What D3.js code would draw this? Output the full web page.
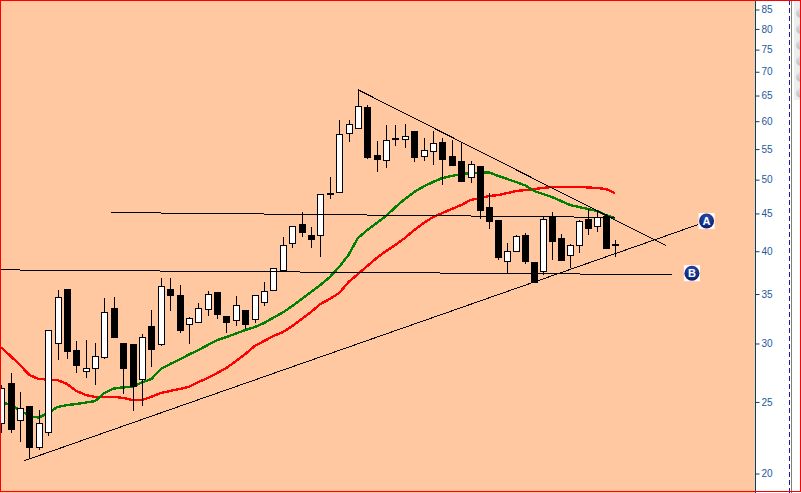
<!DOCTYPE html>
<html>
<head>
<meta charset="utf-8">
<script src="https://cdn.jsdelivr.net/npm/d3@7"></script>
<style>
    html, body { margin: 0; padding: 0; background: #fff; overflow: hidden; }
    svg { display: block; }
</style>
</head>
<body>
<div id="chart"></div>
<script>
// Candles
const opens = [23.41,26.44,23.56,24.61,21.72,22.76,30.04,35.55,29.39,27.53,27.71,28.76,33.50,30.04,29.95,26.85,31.67,29.95,35.55,34.89,31.87,32.07,33.40,35.22,32.67,32.27,33.20,32.37,34.14,35.44,37.72,41.03,43.54,42.06,41.95,47.80,48.11,57.82,58.73,62.70,53.99,53.15,56.80,56.75,58.18,53.82,54.67,56.22,53.82,52.98,50.26,52.17,45.91,44.08,38.79,40.02,41.95,38.67,37.60,44.49,41.68,39.53,40.78,44.21,43.27,44.63,40.80];
const highs = [26.36,27.36,25.79,24.69,24.38,31.28,35.44,35.55,30.23,30.32,30.04,34.57,34.67,30.04,29.95,30.90,33.30,36.79,36.79,36.00,32.57,34.03,35.33,35.22,32.67,34.79,33.20,34.89,36.33,37.95,41.82,43.27,45.20,43.13,47.80,50.41,60.21,60.21,66.33,63.10,56.40,59.28,59.28,59.46,58.18,56.92,58.18,56.92,56.57,56.04,52.98,52.17,47.95,44.08,41.03,42.06,42.33,38.67,44.49,45.20,42.19,40.90,44.08,45.63,45.34,44.91,41.42];
const lows = [22.69,22.69,22.06,20.92,21.52,22.48,28.49,28.58,27.36,26.93,26.36,28.58,30.51,25.63,24.30,24.69,27.88,29.76,33.20,30.98,29.95,31.97,32.67,32.37,30.98,31.67,31.38,31.97,33.71,35.44,37.60,40.40,41.82,40.40,39.28,47.07,48.11,56.22,58.73,53.32,51.20,51.84,55.53,55.18,52.82,52.98,52.33,49.15,52.33,49.78,49.48,44.21,42.87,38.91,37.37,39.90,38.43,36.33,37.13,38.91,38.91,37.95,39.78,42.06,42.46,40.40,39.28];
const closes = [26.11,22.97,24.46,21.66,23.41,31.28,34.67,29.30,28.05,27.71,28.85,33.09,30.60,27.71,26.20,30.60,29.48,35.88,34.79,31.28,32.47,33.50,35.00,32.88,32.07,33.82,31.87,34.89,35.33,37.95,40.78,43.27,42.46,41.55,47.80,47.95,57.63,59.46,62.90,53.65,53.32,56.57,56.92,57.28,53.65,54.84,56.04,53.32,52.33,49.78,52.49,45.48,43.94,39.28,40.02,41.82,38.79,36.33,44.21,41.29,38.91,40.78,43.94,43.00,44.49,40.40,40.90];

// Moving averages
const maFast = [25.00,24.76,24.38,23.92,23.81,24.15,24.61,24.76,24.84,24.95,25.07,25.71,26.07,26.16,26.20,26.57,26.85,27.71,28.14,28.53,28.98,29.39,29.85,30.32,30.60,30.94,31.28,31.57,31.97,32.52,33.04,33.71,34.46,35.22,36.00,36.90,38.08,39.53,41.68,42.73,43.67,44.63,45.91,47.07,48.11,48.95,49.63,50.26,50.58,50.89,51.05,51.12,51.12,50.58,50.10,49.63,49.10,48.26,47.80,47.36,46.77,46.19,45.91,45.63,45.34,44.77,44.35];
const maSlow = [29.62,28.85,28.05,27.19,26.85,26.81,26.77,26.44,25.87,25.55,25.40,25.40,25.40,25.31,25.15,25.15,25.40,25.71,25.87,26.03,26.20,26.60,26.93,27.36,27.79,28.40,29.03,29.76,30.23,30.70,31.08,31.67,32.37,33.09,33.93,34.46,35.11,36.33,37.25,38.19,39.16,40.02,40.78,41.68,42.73,43.67,44.49,45.06,45.63,46.19,46.92,47.22,47.51,47.66,47.95,48.26,48.41,48.56,48.72,48.88,48.88,48.88,48.88,48.80,48.72,48.56,47.95];

// Drawn lines: [bar index, price] at each end
const trendLines = [
    [[2.4, 20.80], [75.24, 43.46]],
    [[38, 66.20], [71.7, 40.69]],
    [[11.67, 45.13], [66, 44.45]],
    [[-0.16, 37.74], [72.35, 37.18]]
];
const markerLabels = ["A", "B"];
const markerBars = [76.2, 74.57];
const markerPrices = [43.95, 37.35];
const priceTicks = [20,25,30,35,40,45,50,55,60,65,70,75,80,85];
const knobRows = [0,1,2,3,4,5];

const width = 801, height = 493;
const plotRight = 755;

const x = d3.scaleLinear().domain([0, 52, 66]).range([1.2, 489.3, 615]);
const y = d3.scaleLog().domain([20, 85]).range([473.5, 9.5]);

const svg = d3.select("#chart").append("svg")
    .attr("width", width)
    .attr("height", height)
    .style("font-family", "Arial, 'Liberation Sans', sans-serif");

const defs = svg.append("defs");
const grad = defs.append("radialGradient").attr("id", "marker-fill")
    .attr("cx", "50%").attr("cy", "30%").attr("r", "75%");
grad.append("stop").attr("offset", "0%").attr("stop-color", "#2a4fb0");
grad.append("stop").attr("offset", "100%").attr("stop-color", "#08196a");
const knobGrad = defs.append("linearGradient").attr("id", "knob-fill")
    .attr("x1", "0").attr("y1", "0").attr("x2", "0").attr("y2", "1");
knobGrad.append("stop").attr("offset", "0%").attr("stop-color", "#e2e2e2");
knobGrad.append("stop").attr("offset", "100%").attr("stop-color", "#bdbdbd");

// Plot background
svg.append("rect")
    .attr("width", plotRight)
    .attr("height", height)
    .attr("fill", "#ffc8a0");

// Right hand strip
svg.append("rect")
    .attr("x", 794).attr("y", 0).attr("width", 6).attr("height", 100)
    .attr("fill", "#eeeeee");
svg.append("g").selectAll("circle")
    .data(knobRows)
    .join("circle")
    .attr("cx", 801)
    .attr("cy", d => 13 + d * 16)
    .attr("r", 5)
    .attr("fill", "url(#knob-fill)");
svg.append("line")
    .attr("x1", 789.5).attr("x2", 789.5).attr("y1", 0).attr("y2", height)
    .attr("stroke", "#1a1ab8").attr("stroke-dasharray", "5,3");
svg.append("line")
    .attr("x1", 791.5).attr("x2", 791.5).attr("y1", 0).attr("y2", height)
    .attr("stroke", "#808080");

// Price axis
const axis = d3.axisRight(y)
    .tickValues(priceTicks)
    .tickFormat(d3.format("d"))
    .tickSize(4)
    .tickPadding(2);
const axisG = svg.append("g")
    .attr("transform", `translate(${plotRight + 0.5},0)`)
    .call(axis);
axisG.select(".domain")
    .attr("d", `M0,0V${height}`)
    .attr("stroke", "#004466");
axisG.selectAll(".tick line").attr("stroke", "#004466");
axisG.selectAll(".tick text")
    .attr("fill", "#1c5a9c")
    .style("font-size", "10px")
    .style("font-family", "Arial, 'Liberation Sans', sans-serif");

// Moving averages sit under the candles
const maLine = d3.line().x((d, i) => x(i)).y(d => y(d));
svg.append("path")
    .attr("d", maLine(maSlow))
    .attr("fill", "none")
    .attr("stroke", "#ff0000")
    .attr("stroke-width", 2.4)
    .attr("shape-rendering", "crispEdges");
svg.append("path")
    .attr("d", maLine(maFast))
    .attr("fill", "none")
    .attr("stroke", "#008000")
    .attr("stroke-width", 2.4)
    .attr("shape-rendering", "crispEdges");

// Candles
const candles = svg.append("g").selectAll("g")
    .data(d3.range(opens.length))
    .join("g")
    .attr("shape-rendering", "crispEdges");
candles.append("line")
    .attr("x1", i => Math.round(x(i)) + 0.5)
    .attr("x2", i => Math.round(x(i)) + 0.5)
    .attr("y1", i => y(highs[i]))
    .attr("y2", i => y(lows[i]))
    .attr("stroke", "#000")
    .attr("stroke-width", 1);
candles.append("rect")
    .attr("x", i => Math.round(x(i)) - 2.5)
    .attr("width", 6)
    .attr("y", i => y(Math.max(opens[i], closes[i])))
    .attr("height", i => Math.max(1, Math.abs(y(opens[i]) - y(closes[i]))))
    .attr("fill", i => closes[i] >= opens[i] ? "#fff" : "#000")
    .attr("stroke", "#000")
    .attr("stroke-width", 1);

// Trend lines
svg.append("g").selectAll("line")
    .data(trendLines)
    .join("line")
    .attr("x1", d => x(d[0][0]))
    .attr("y1", d => y(d[0][1]))
    .attr("x2", d => x(d[1][0]))
    .attr("y2", d => y(d[1][1]))
    .attr("stroke", "#000")
    .attr("stroke-width", 1)
    .attr("shape-rendering", "crispEdges");

// A and B markers
const markers = svg.append("g").selectAll("g")
    .data(markerLabels)
    .join("g")
    .attr("transform", (d, i) => `translate(${x(markerBars[i])},${y(markerPrices[i])})`);
markers.append("rect")
    .attr("x", -8).attr("y", -8).attr("width", 16).attr("height", 16)
    .attr("fill", "#fff");
markers.append("circle")
    .attr("r", 7.5)
    .attr("fill", "url(#marker-fill)");
markers.append("text")
    .attr("text-anchor", "middle")
    .attr("dy", "0.36em")
    .attr("fill", "#fff")
    .style("font-size", "11px")
    .style("font-weight", "bold")
    .text(d => d);

// Red frame
svg.append("rect")
    .attr("x", 0.5).attr("y", 0.5)
    .attr("width", width - 1).attr("height", height - 2)
    .attr("fill", "none")
    .attr("stroke", "#ff0000");
</script>
</body>
</html>
